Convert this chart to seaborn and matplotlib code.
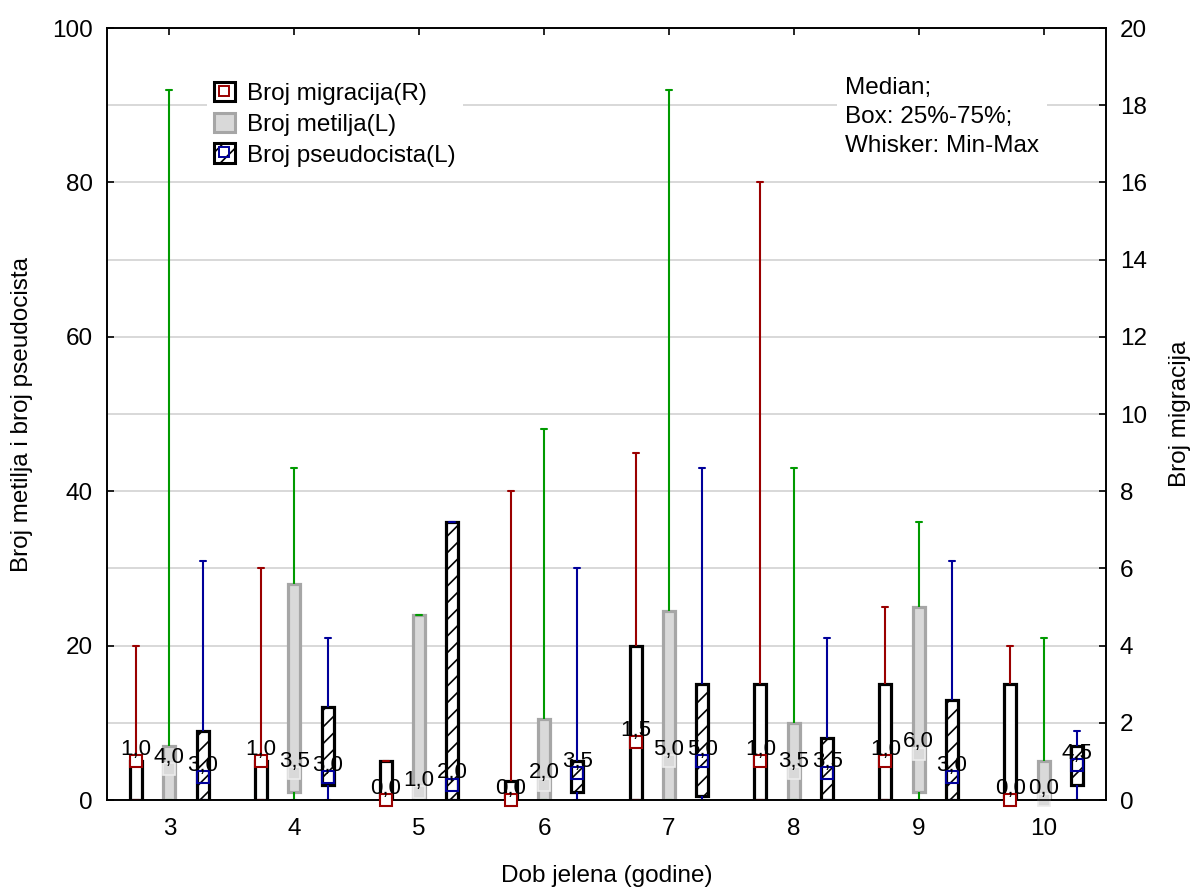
import numpy as np
import pandas as pd
import matplotlib
matplotlib.use("Agg")
import matplotlib.pyplot as plt
import seaborn as sns
from matplotlib.patches import Patch
from matplotlib.lines import Line2D
from matplotlib.ticker import MultipleLocator

# ---------------- data ----------------
ages = ["3", "4", "5", "6", "7", "8", "9", "10"]

# Broj migracija (right axis)
mig_min = [0, 0, 0, 0, 0, 0, 0, 0]
mig_q1 = [0, 0, 0, 0, 0, 0, 0, 0]
mig_med = [1.0, 1.0, 0.0, 0.0, 1.5, 1.0, 1.0, 0.0]
mig_q3 = [1.0, 1.0, 1.0, 0.5, 4.0, 3.0, 3.0, 3.0]
mig_max = [4, 6, 1, 8, 9, 16, 5, 4]

# Broj metilja (left axis)
met_min = [0, 0, 0, 0, 0, 0, 0, 0]
met_q1 = [0, 1, 0, 0, 0, 0, 1, 0]
met_med = [4.0, 3.5, 1.0, 2.0, 5.0, 3.5, 6.0, 0.0]
met_q3 = [7, 28, 24, 10.5, 24.5, 10, 25, 5]
met_max = [92, 43, 24, 48, 92, 43, 36, 21]

# Broj pseudocista (left axis)
pse_min = [0, 0, 0, 0, 0, 0, 0, 0]
pse_q1 = [0, 2, 0, 1, 0.5, 0, 0, 2]
pse_med = [3.0, 3.0, 2.0, 3.5, 5.0, 3.5, 3.0, 4.5]
pse_q3 = [9, 12, 36, 5, 15, 8, 13, 7]
pse_max = [31, 21, 36, 30, 43, 21, 31, 9]

levels = ["Broj migracija(R)", "Broj metilja(L)", "Broj pseudocista(L)"]
stats = {
    levels[0]: (mig_min, mig_q1, mig_med, mig_q3, mig_max),
    levels[1]: (met_min, met_q1, met_med, met_q3, met_max),
    levels[2]: (pse_min, pse_q1, pse_med, pse_q3, pse_max),
}

# five values per group reproduce min / q1 / median / q3 / max exactly
rows = []
for name, arrs in stats.items():
    for i, age in enumerate(ages):
        for a in arrs:
            rows.append({"age": age, "series": name, "value": a[i]})
df = pd.DataFrame(rows)

# ---------------- style ----------------
sns.set_theme(style="white")
plt.rcParams["font.family"] = ["Liberation Sans", "DejaVu Sans"]
plt.rcParams["text.color"] = "black"
plt.rcParams["axes.labelcolor"] = "black"
plt.rcParams["xtick.color"] = "black"
plt.rcParams["ytick.color"] = "black"
plt.rcParams["hatch.linewidth"] = 1.2
plt.rcParams["hatch.color"] = "#303030"
FS = 17.5

RED = "#9a0000"
GREEN = "#009a00"
BLUE = "#00009a"
GRAYF = "#d9d9d9"
GRAYE = "#a6a6a6"

fill_pal = {levels[0]: "white", levels[1]: GRAYF, levels[2]: "white"}
edge_col = {levels[0]: "black", levels[1]: GRAYE, levels[2]: "black"}
wh_col = {levels[0]: RED, levels[1]: GREEN, levels[2]: BLUE}

fig = plt.figure(figsize=(11.95, 8.92), dpi=100)
ax1 = fig.add_axes([0.0895, 0.1031, 0.8360, 0.8655])
ax2 = ax1.twinx()


def draw(ax, name):
    before = len(ax.patches)
    sns.boxplot(
        data=df[df["series"] == name], x="age", y="value", hue="series",
        order=ages, hue_order=levels, palette=fill_pal, dodge=True,
        whis=(0, 100), width=0.8, gap=0.64, saturation=1,
        linecolor=edge_col[name], linewidth=2.3, showfliers=False,
        legend=False, ax=ax,
        whiskerprops=dict(color=wh_col[name], linewidth=1.5),
        capprops=dict(color=wh_col[name], linewidth=1.5),
        medianprops=dict(linewidth=0),
    )
    new = ax.patches[before:]
    centers = []
    for p in new:
        v = p.get_path().vertices
        centers.append((v[:, 0].min() + v[:, 0].max()) / 2)
    order = np.argsort(centers)
    return [new[i] for i in order], [centers[i] for i in order]


def med_labels(ax, xs, meds):
    for x, m in zip(xs, meds):
        ax.annotate(f"{m:.1f}".replace(".", ","), (x, m), xytext=(0, 4.5),
                    textcoords="offset points", ha="center", va="baseline",
                    fontsize=16, color="black", zorder=20,
                    annotation_clip=False)


# left axis series
_, met_x = draw(ax1, levels[1])
pse_patches, pse_x = draw(ax1, levels[2])
for p in pse_patches:
    p.set_hatch("//")

ax1.plot(met_x, met_med, ls="none", marker="s", ms=8.5, mec="#ececec",
         mfc=GRAYF, mew=1.2, zorder=6, clip_on=False)
ax1.plot(pse_x, pse_med, ls="none", marker="s", ms=8.5, mec=BLUE,
         mfc="none", mew=1.5, zorder=6, clip_on=False)
med_labels(ax1, met_x, met_med)
med_labels(ax1, pse_x, pse_med)

# right axis series
_, mig_x = draw(ax2, levels[0])
ax2.plot(mig_x, mig_med, ls="none", marker="s", ms=8.5, mec=RED,
         mfc="white", mew=1.5, zorder=6, clip_on=False)
med_labels(ax2, mig_x, mig_med)

# ---------------- axes ----------------
ax1.set_xlim(-0.5, len(ages) - 0.5)
ax1.set_ylim(0, 100)
ax2.set_ylim(0, 20)
ax1.yaxis.set_major_locator(MultipleLocator(20))
ax1.yaxis.set_minor_locator(MultipleLocator(10))
ax2.yaxis.set_major_locator(MultipleLocator(2))
ax1.grid(axis="y", which="both", color="#d8d8d8", lw=1.4)
ax1.grid(axis="x", visible=False)
ax2.grid(False)
ax1.set_axisbelow(True)

ax1.set_xticks(range(len(ages)))
ax1.set_xticklabels(ages)
ax1.tick_params(axis="both", which="major", direction="in", length=5,
                width=1.2, labelsize=FS, colors="black")
ax1.tick_params(axis="x", top=True, bottom=True, pad=13)
ax1.tick_params(axis="y", pad=10)
ax1.tick_params(which="minor", length=0)
ax2.tick_params(axis="y", direction="in", length=5, width=1.2,
                labelsize=FS, pad=10, colors="black")

for ax in (ax1, ax2):
    for s in ax.spines.values():
        s.set_color("black")
        s.set_linewidth(1.2)
        s.set_visible(True)

ax1.set_xlabel("Dob jelena (godine)", fontsize=FS, labelpad=18, color="black")
ax1.set_ylabel("Broj metilja i broj pseudocista", fontsize=FS, labelpad=14,
               color="black")
ax2.set_ylabel("Broj migracija", fontsize=FS, labelpad=16, color="black")

# ---------------- legend & note ----------------
h_mig = (Patch(facecolor="white", edgecolor="black", lw=2.2),
         Line2D([], [], ls="none", marker="s", ms=6.5, mec=RED, mfc="white", mew=1.4))
h_met = Patch(facecolor=GRAYF, edgecolor=GRAYE, lw=2.2)
h_pse = (Patch(facecolor="white", edgecolor="black", lw=2.2, hatch="//"),
         Line2D([], [], ls="none", marker="s", ms=6.5, mec=BLUE, mfc="none", mew=1.4))
leg = ax2.legend([h_mig, h_met, h_pse], levels, loc="upper left",
                 bbox_to_anchor=(0.1, 0.94), frameon=True, facecolor="white",
                 edgecolor="none", fancybox=False, framealpha=1, fontsize=FS,
                 handlelength=0.85, handleheight=0.85, handletextpad=0.5,
                 labelspacing=0.32, borderpad=0.3, borderaxespad=0)
leg.set_zorder(15)
for t in leg.get_texts():
    t.set_color("black")

ax2.text(0.739, 0.937, "Median;\nBox: 25%-75%;\nWhisker: Min-Max",
         transform=ax2.transAxes, ha="left", va="top", fontsize=FS,
         linespacing=1.42, color="black",
         bbox=dict(facecolor="white", edgecolor="none", pad=6), zorder=15)

fig.savefig("out.png", dpi=100)
